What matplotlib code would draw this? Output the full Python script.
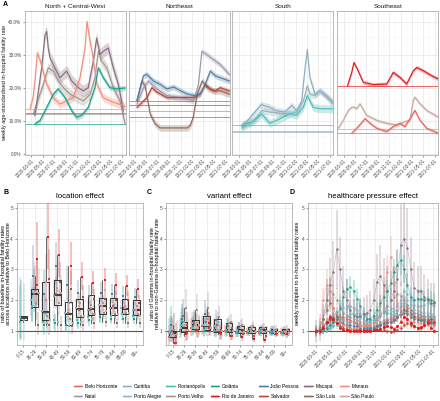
import matplotlib
matplotlib.use('Agg')
import matplotlib.pyplot as plt
import matplotlib.dates as mdates
import numpy as np
from matplotlib.patches import Patch
from matplotlib.lines import Line2D

plt.rcParams['font.family'] = ['Liberation Sans', 'DejaVu Sans']

# ---------------- data ----------------
cities = ['Belo Horizonte', 'Curitiba', 'Florianópolis', 'Goiânia', 'João Pessoa', 'Macapá', 'Manaus',
          'Natal', 'Porto Alegre', 'Porto Velho', 'Rio de Janeiro', 'Salvador', 'São Luís', 'São Paulo']
city_colors = ['#E8655A', '#8FAEC2', '#4DBDB8', '#1B9E8E', '#4E7FA3', '#8A6E80', '#F08F7B',
               '#9C98B0', '#93B3B9', '#A3958C', '#E31A1C', '#B5473C', '#8D6C58', '#C9A79C']

regions = ['North + Central-West', 'Northeast', 'South', 'Southeast']
region_cities = [['Porto Velho', 'Macapá', 'Manaus', 'Goiânia'],
                 ['São Luís', 'Natal', 'Salvador', 'João Pessoa'],
                 ['Porto Alegre', 'Curitiba', 'Florianópolis'],
                 ['São Paulo', 'Belo Horizonte', 'Rio de Janeiro']]

# Panel A: days since 2020-03-01 and weekly IHFR (%)
manaus_days = [-7, 9, 19, 32, 41, 46, 62, 83, 116, 153, 190, 223, 260, 287, 297, 308, 324, 351, 383, 437, 490, 501]
manaus_ihfr = [13.6, 17, 22, 30.5, 29, 28.5, 25, 21, 17, 15, 16, 17, 23, 32, 40, 36, 31, 21, 17, 15.6, 14.6, 14.3]
goiania_days = [19, 46, 82, 117, 144, 180, 216, 242, 269, 304, 340, 358, 385, 420, 456, 501]
goiania_ihfr = [9, 10, 14, 18, 19.6, 17, 13, 11, 11.6, 14, 20, 26, 23, 20, 19.6, 19.9]
macapa_days = [19, 55, 73, 82, 90, 100, 126, 153, 189, 216, 251, 278, 304, 331, 349, 367, 385, 411, 438, 465, 492]
macapa_ihfr = [11.6, 26, 36, 37, 32, 29, 26, 23, 25, 22, 20, 19, 20, 28, 35, 30, 31, 32, 26, 21, 13]
portovelho_days = [10, 64, 90, 117, 144, 171, 207, 242, 278, 314, 340, 358, 376, 403, 438, 474, 501]
portovelho_ihfr = [12, 21, 26, 25, 22, 20, 18, 17, 16, 18, 23, 31, 28, 26, 20, 16, 9]
joaopessoa_days = [11, 46, 64, 100, 135, 171, 207, 242, 278, 314, 349, 376, 403, 430, 456, 505]
joaopessoa_ihfr = [16.1, 23.6, 24, 22, 21, 19.6, 20.2, 19.1, 18.1, 17.6, 18.1, 21, 25, 23.6, 23, 22]
natal_days = [11, 46, 73, 118, 171, 242, 314, 340, 358, 385, 420, 456, 505]
natal_ihfr = [15, 20, 22, 19.6, 17.6, 17, 16, 21, 31, 30, 28.5, 27, 24]
salvador_days = [11, 64, 91, 118, 171, 260, 314, 349, 376, 403, 430, 456, 505]
salvador_ihfr = [14, 17, 20, 18.6, 17, 17, 17, 18, 21, 19.6, 19, 20, 19]
saoluis_days = [11, 37, 55, 82, 109, 135, 280, 296, 312, 333, 360, 387, 419, 456, 505]
saoluis_ihfr = [16, 22, 20.5, 12, 9, 7.8, 7.8, 8.5, 11, 18, 22, 20, 19, 19, 18]
curitiba_days = [16, 43, 78, 123, 132, 167, 203, 248, 284, 310, 337, 355, 367, 381, 408, 435, 471, 506]
curitiba_ihfr = [8.7, 9.7, 12, 15, 14.6, 14, 13, 12.6, 14.6, 13, 16, 26, 31.5, 23, 18, 19, 17, 15]
portoalegre_days = [16, 60, 96, 123, 132, 167, 257, 310, 346, 367, 381, 408, 435, 471, 506]
portoalegre_ihfr = [7.7, 9, 11, 13, 13, 12.6, 12, 12.6, 16, 20.6, 18, 17.6, 19, 17.6, 15.6]
floripa_days = [16, 43, 78, 123, 167, 203, 239, 274, 310, 346, 367, 381, 399, 435, 506]
floripa_ihfr = [8.2, 9.2, 9.7, 12, 9.2, 10.1, 11.1, 12.1, 11.6, 14.1, 17.6, 16, 14, 13.6, 13.6]
rio_days = [21, 43, 55, 70, 105, 158, 230, 265, 301, 337, 372, 391, 426, 471, 506]
rio_ihfr = [20.6, 24.6, 27.6, 26, 21.6, 20.9, 21.1, 24.6, 23.1, 21.1, 25.1, 26.1, 25.1, 23.6, 22.6]
saopaulo_days = [-29, -2, 25, 43, 55, 70, 87, 123, 177, 230, 284, 328, 355, 372, 381, 408, 444, 506]
saopaulo_ihfr = [7.7, 10.1, 13.1, 14.1, 14.1, 13.6, 15.1, 11.6, 10.1, 9.2, 8.7, 9.7, 10.1, 16.1, 17.1, 15.1, 13.1, 11.1]
belo_days = [43, 78, 114, 141, 177, 230, 265, 301, 328, 381, 408, 444, 506]
belo_ihfr = [6.2, 8.2, 10.6, 9.2, 7.7, 6.7, 8.2, 9.2, 8.2, 13.1, 10.1, 7.7, 6.2]

baseline_ihfr = [6.2, 6.7, 8.7, 9.0, 16.0, 12.3, 13.6, 13.0, 6.9, 12.0, 20.5, 14.7, 11.2, 7.4]
ribbon_halfwidth = [0.5, 1.0, 1.2, 0.8, 0.9, 1.8, 1.2, 0.9, 1.0, 1.5, 0.6, 0.7, 1.0, 0.5]

# Panel B / C: age groups
age_groups = ['0-15', '16-29', '30-39', '40-49', '50-59', '60-69', '70-74', '75-79', '80-84', '85-89', '90+']
nan = float('nan')
b_curitiba = [1.45, 2.0, 1.65, 2.15, 1.6, 1.75, 1.7, 1.85, 1.75, 1.75, 1.7]
b_floripa = [1.3, 1.8, 1.3, 1.35, 1.2, 1.35, 1.45, 1.5, 1.5, 1.55, 1.5]
b_goiania = [1.4, 1.75, 1.2, 1.25, 1.2, 1.25, 1.35, 1.45, 1.4, 1.4, 1.4]
b_joaopessoa = [nan, 2.8, 2.2, 3.1, 2.5, 2.25, 2.15, 2.25, 2.2, 2.15, 2.1]
b_macapa = [nan, 2.2, 1.6, 2.2, 1.6, 1.7, 1.7, 1.8, 1.8, 1.75, 1.7]
b_manaus = [nan, 2.4, 2.6, 2.3, 1.7, 1.8, 1.75, 1.8, 1.75, 1.75, 1.7]
b_natal = [nan, 2.3, 2.0, 2.4, 1.9, 1.9, 1.85, 1.9, 1.85, 1.8, 1.8]
b_portoalegre = [1.35, 1.85, 1.25, 1.3, 1.15, 1.3, 1.4, 1.5, 1.45, 1.5, 1.45]
b_portovelho = [nan, 1.9, 1.5, 1.9, 1.4, 1.5, 1.55, 1.6, 1.55, 1.6, 1.55]
b_rio = [nan, 3.35, 4.05, 3.45, 3.1, 2.75, 2.55, 2.65, 2.5, 2.45, 2.35]
b_salvador = [nan, 2.5, 2.7, 2.6, 2.35, 2.1, 2.05, 2.05, 2.0, 2.0, 1.9]
b_saoluis = [nan, 1.2, 1.2, 1.2, 1.15, 1.2, 1.25, 1.3, 1.25, 1.25, 1.25]
b_saopaulo = [nan, 2.25, 1.35, 2.25, 1.25, 1.5, 1.55, 1.65, 1.55, 1.6, 1.5]
b_err = [0.9, 0.35, 0.35, 0.25, 0.25, 0.18, 0.16, 0.15, 0.15, 0.15, 0.14]
b_med = [1.44, 2.21, 1.62, 2.16, 1.57, 1.73, 1.73, 1.81, 1.76, 1.73, 1.70]
b_q1 = [1.36, 1.78, 1.35, 1.84, 1.19, 1.46, 1.52, 1.57, 1.52, 1.57, 1.52]
b_q3 = [1.48, 2.38, 2.59, 2.65, 1.95, 2.05, 2.16, 2.08, 2.08, 2.05, 2.00]
b_wlo = [1.3, 1.2, 1.2, 1.2, 1.15, 1.2, 1.25, 1.3, 1.25, 1.25, 1.25]
b_whi = [1.5, 2.8, 4.05, 3.45, 3.1, 2.75, 2.55, 2.65, 2.5, 2.45, 2.35]

c_belo = [0.8, 1.05, 1.1, 1.15, 1.05, 1.0, 0.95, 0.95, 0.95, 0.95, 0.95]
c_curitiba = [0.95, 1.1, 1.25, 1.2, 1.15, 1.05, 1.05, 1.0, 1.02, 1.0, 0.98]
c_floripa = [1.0, 1.2, 1.1, 1.05, 1.0, 0.98, 0.97, 0.95, 0.97, 0.95, 0.95]
c_goiania = [1.2, 1.3, 1.15, 1.1, 1.0, 1.0, 0.95, 0.95, 0.95, 0.95, 0.93]
c_joaopessoa = [0.95, 1.4, 1.25, 1.55, 1.35, 1.2, 1.1, 1.05, 1.05, 1.0, 0.98]
c_macapa = [1.0, 1.5, 1.3, 1.3, 1.2, 1.15, 1.1, 1.05, 1.05, 1.0, 1.0]
c_manaus = [0.95, 1.15, 1.2, 1.1, 1.05, 1.05, 1.0, 1.0, 1.0, 0.98, 0.97]
c_natal = [0.9, 1.3, 1.2, 1.4, 1.3, 1.25, 1.15, 1.1, 1.1, 1.05, 1.0]
c_portoalegre = [1.05, 1.2, 1.2, 1.1, 1.05, 1.0, 0.98, 0.97, 0.97, 0.95, 0.94]
c_portovelho = [1.05, 1.75, 1.7, 1.75, 1.45, 1.3, 1.2, 1.15, 1.1, 1.05, 1.05]
c_rio = [0.62, 0.9, 1.05, 1.25, 0.95, 0.85, 0.8, 0.75, 0.7, 0.92, 0.9]
c_salvador = [0.6, 0.95, 1.0, 1.1, 0.9, 0.85, 0.9, 0.85, 0.85, 0.95, 0.95]
c_saoluis = [0.85, 1.2, 1.15, 1.15, 1.05, 1.1, 1.05, 1.0, 1.0, 0.97, 0.97]
c_saopaulo = [0.9, 1.05, 1.2, 1.1, 1.0, 1.0, 0.98, 0.97, 1.0, 0.97, 0.95]
c_err = [0.5, 0.35, 0.3, 0.3, 0.25, 0.2, 0.18, 0.15, 0.15, 0.15, 0.15]
c_med = [0.93, 1.10, 1.20, 1.12, 1.05, 1.03, 1.02, 1.00, 1.02, 0.99, 0.98]
c_q1 = [0.80, 0.98, 1.08, 1.05, 0.98, 0.97, 0.93, 0.93, 0.95, 0.95, 0.94]
c_q3 = [1.00, 1.30, 1.35, 1.50, 1.40, 1.25, 1.18, 1.12, 1.12, 1.08, 1.06]
c_wlo = [0.6, 0.85, 1.0, 1.0, 0.9, 0.85, 0.8, 0.75, 0.7, 0.92, 0.9]
c_whi = [1.2, 1.75, 1.7, 1.75, 1.45, 1.3, 1.2, 1.15, 1.12, 1.05, 1.05]

# Panel D: fortnightly healthcare pressure multiplier from 2020-03-02
d_start = '2020-03-02'
d_belo = [1.0,1.0,1.05,1.1,1.2,1.3,1.4,1.45,1.45,1.4,1.35,1.3,1.25,1.2,1.15,1.15,1.1,1.1,1.15,1.2,1.3,1.35,1.4,1.4,1.45,1.55,1.7,1.75,1.65,1.5,1.45,1.4,1.4,1.35,1.3,1.3]
d_curitiba = [1.0,1.0,1.05,1.15,1.3,1.45,1.6,1.7,1.75,1.8,1.8,1.75,1.7,1.6,1.5,1.4,1.35,1.35,1.45,1.6,1.75,1.8,1.75,1.7,1.8,2.0,2.3,2.2,2.0,1.85,1.8,1.8,1.85,1.9,1.85,1.8]
d_floripa = [1.0,1.0,1.0,1.05,1.1,1.15,1.2,1.3,1.4,1.5,1.55,1.55,1.5,1.45,1.35,1.3,1.3,1.35,1.45,1.55,1.6,1.6,1.55,1.5,1.5,1.6,1.8,1.75,1.6,1.5,1.45,1.4,1.45,1.5,1.5,1.45]
d_goiania = [1.0,1.0,1.05,1.1,1.2,1.3,1.45,1.75,2.1,2.35,2.42,2.3,2.05,1.8,1.55,1.4,1.4,1.5,1.7,1.9,2.1,2.3,2.55,2.9,3.15,3.3,3.0,2.5,2.1,2.0,2.05,2.05,2.0,2.05,2.0,1.95]
d_joaopessoa = [1.0,1.0,1.1,1.25,1.35,1.45,1.4,1.3,1.25,1.2,1.2,1.15,1.15,1.1,1.1,1.1,1.1,1.1,1.15,1.2,1.2,1.25,1.3,1.35,1.45,1.55,1.6,1.55,1.45,1.4,1.35,1.35,1.3,1.3,1.25,1.2]
d_macapa = [1.0,1.05,1.4,2.0,2.5,2.9,3.65,3.0,2.3,2.0,1.7,1.5,1.45,1.5,1.55,1.6,1.7,2.0,2.6,2.8,2.5,2.3,2.0,2.3,2.7,3.8,4.0,3.7,3.0,2.4,2.3,2.3,2.1,2.0,1.9,1.9]
d_manaus = [1.0,1.3,2.0,2.5,2.3,1.75,1.45,1.3,1.2,1.15,1.1,1.1,1.1,1.15,1.15,1.2,1.2,1.3,1.45,1.8,2.3,2.9,3.4,2.6,1.9,1.6,1.45,1.35,1.3,1.3,1.25,1.25,1.2,1.2,1.2,1.2]
d_natal = [1.0,1.0,1.15,1.3,1.45,1.55,1.5,1.4,1.35,1.3,1.3,1.25,1.2,1.2,1.2,1.2,1.15,1.15,1.2,1.3,1.35,1.4,1.45,1.5,1.65,1.8,1.9,1.85,1.7,1.6,1.55,1.5,1.5,1.45,1.45,1.4]
d_portoalegre = [1.0,1.0,1.0,1.05,1.1,1.2,1.3,1.45,1.6,1.75,1.8,1.75,1.6,1.45,1.35,1.3,1.25,1.3,1.4,1.55,1.65,1.7,1.65,1.6,1.7,1.9,2.1,2.0,1.85,1.7,1.65,1.6,1.6,1.6,1.55,1.5]
d_portovelho = [1.0,1.1,1.4,2.0,2.3,2.2,2.0,1.8,1.6,1.5,1.45,1.4,1.35,1.3,1.25,1.2,1.2,1.25,1.35,1.5,1.65,1.8,2.0,2.1,2.2,2.15,2.0,1.85,1.7,1.6,1.55,1.5,1.45,1.4,1.4,1.35]
d_rio = [1.0,1.0,1.1,1.3,1.45,1.4,1.25,1.1,1.05,1.02,1.0,1.0,1.0,1.0,1.0,1.0,1.0,1.02,1.05,1.08,1.12,1.15,1.12,1.08,1.15,1.3,1.45,1.4,1.25,1.15,1.1,1.12,1.2,1.25,1.1,1.0]
d_salvador = [1.0,1.05,1.15,1.3,1.4,1.35,1.25,1.15,1.1,1.08,1.05,1.05,1.05,1.03,1.03,1.03,1.03,1.04,1.05,1.05,1.05,1.0,0.98,1.0,1.05,1.1,1.2,1.25,1.2,1.15,1.1,1.1,1.2,1.35,1.4,1.3]
d_saoluis = [1.0,1.1,1.4,1.7,1.9,1.75,1.5,1.3,1.2,1.15,1.1,1.05,1.05,1.05,1.05,1.05,1.05,1.1,1.15,1.2,1.25,1.3,1.3,1.35,1.45,1.6,1.7,1.65,1.55,1.45,1.4,1.35,1.35,1.3,1.3,1.25]
d_saopaulo = [1.0,1.05,1.2,1.35,1.45,1.5,1.45,1.4,1.35,1.3,1.3,1.25,1.2,1.15,1.15,1.1,1.1,1.15,1.2,1.25,1.3,1.35,1.35,1.35,1.45,1.55,1.65,1.6,1.5,1.45,1.4,1.4,1.4,1.35,1.35,1.3]
d_err = [0.08, 0.12, 0.1, 0.15, 0.1, 0.35, 0.2, 0.1, 0.1, 0.2, 0.04, 0.08, 0.1, 0.08]

# ---------------- assemble ----------------
a_days = dict(zip(cities, [belo_days, curitiba_days, floripa_days, goiania_days, joaopessoa_days, macapa_days,
                           manaus_days, natal_days, portoalegre_days, portovelho_days, rio_days, salvador_days,
                           saoluis_days, saopaulo_days]))
a_vals = dict(zip(cities, [belo_ihfr, curitiba_ihfr, floripa_ihfr, goiania_ihfr, joaopessoa_ihfr, macapa_ihfr,
                           manaus_ihfr, natal_ihfr, portoalegre_ihfr, portovelho_ihfr, rio_ihfr, salvador_ihfr,
                           saoluis_ihfr, saopaulo_ihfr]))
b_vals = dict(zip(cities[1:], [b_curitiba, b_floripa, b_goiania, b_joaopessoa, b_macapa, b_manaus, b_natal,
                               b_portoalegre, b_portovelho, b_rio, b_salvador, b_saoluis, b_saopaulo]))
c_vals = dict(zip(cities, [c_belo, c_curitiba, c_floripa, c_goiania, c_joaopessoa, c_macapa, c_manaus, c_natal,
                           c_portoalegre, c_portovelho, c_rio, c_salvador, c_saoluis, c_saopaulo]))
d_vals = dict(zip(cities, [d_belo, d_curitiba, d_floripa, d_goiania, d_joaopessoa, d_macapa, d_manaus, d_natal,
                           d_portoalegre, d_portovelho, d_rio, d_salvador, d_saoluis, d_saopaulo]))
col = dict(zip(cities, city_colors))
cidx = {c: i for i, c in enumerate(cities)}

# ---------------- figure ----------------
W, H = 440, 401
fig = plt.figure(figsize=(W / 100, H / 100), dpi=100)

def ax_px(l, t, r, b):
    return fig.add_axes([l / W, 1 - b / H, (r - l) / W, (b - t) / H])

TICK_FS = 3.4
GRID_MAJ = '#E3E3E3'
GRID_MIN = '#F1F1F1'
SPINE = '#B0B0B0'

def style(ax):
    ax.set_facecolor('white')
    for s in ax.spines.values():
        s.set_color(SPINE)
        s.set_linewidth(0.6)
    ax.tick_params(which='major', length=1.5, width=0.4, color='#444444', labelsize=TICK_FS,
                   labelcolor='#4D4D4D', pad=1)
    ax.tick_params(which='minor', length=0)
    ax.grid(which='major', color=GRID_MAJ, lw=0.45)
    ax.grid(which='minor', color=GRID_MIN, lw=0.3)
    ax.set_axisbelow(True)

xlim_dates = (mdates.date2num(np.datetime64('2020-01-27')), mdates.date2num(np.datetime64('2021-07-20')))
base = np.datetime64('2020-03-01')

def date_axis(ax):
    ax.xaxis.set_major_locator(mdates.MonthLocator(bymonth=[1, 3, 5, 7, 9, 11]))
    ax.xaxis.set_minor_locator(mdates.MonthLocator())
    ax.xaxis.set_major_formatter(mdates.DateFormatter('%Y-%m-%d'))
    ax.set_xlim(*xlim_dates)
    for lab in ax.get_xticklabels():
        lab.set_rotation(45)
        lab.set_ha('right')
        lab.set_rotation_mode('anchor')

# ---- Panel A ----
a_lefts = [25, 128.5, 232.3, 337.3]
a_w = 101
for i, reg in enumerate(regions):
    ax = ax_px(a_lefts[i], 11, a_lefts[i] + a_w, 155)
    style(ax)
    for c in region_cities[i]:
        j = cidx[c]
        x = base + np.array(a_days[c]).astype('timedelta64[D]')
        xn = mdates.date2num(x)
        y = np.array(a_vals[c]) / 100
        hw = ribbon_halfwidth[j] / 100
        ax.fill_between(xn, y - hw, y + hw, color=col[c], alpha=0.3, lw=0)
        ax.axhline(baseline_ihfr[j] / 100, color=col[c], lw=0.6, alpha=0.8)
        ax.plot(xn, y, color=col[c], lw=0.85)
    ax.set_ylim(-0.004, 0.432)
    ax.set_yticks([0, 0.1, 0.2, 0.3, 0.4])
    ax.set_yticks([0.05, 0.15, 0.25, 0.35], minor=True)
    if i == 0:
        ax.set_yticklabels(['0.0%', '10.0%', '20.0%', '30.0%', '40.0%'])
    else:
        ax.tick_params(axis='y', labelleft=False, length=0)
    date_axis(ax)
    fig.text((a_lefts[i] + a_w / 2) / W, 1 - 6 / H, reg, ha='center', va='center', fontsize=4.6, color='#1A1A1A')

fig.text(5 / W, 1 - 83 / H, 'weekly age-standardised in-hospital fatality rate', rotation=90,
         ha='center', va='center', fontsize=4.0, color='#1A1A1A')
fig.text(3 / W, 1 - 4 / H, 'A', fontsize=5, fontweight='bold', ha='left', va='center')

# ---- Panels B / C ----
offsets = np.linspace(-0.36, 0.36, len(cities))
xpos = np.arange(len(age_groups))

def age_panel(ax, vals, err, med, q1, q3, wlo, whi):
    style(ax)
    ax.axhline(1, color='#555555', lw=0.8, zorder=2)
    stats = [dict(med=med[k], q1=q1[k], q3=q3[k], whislo=wlo[k], whishi=whi[k], fliers=[])
             for k in range(len(age_groups))]
    for c, v in vals.items():
        j = cidx[c]
        v = np.array(v)
        xs = xpos + offsets[j]
        ok = ~np.isnan(v)
        e = np.array(err)
        ax.vlines(xs[ok], (v / (1 + e))[ok], (v * (1 + e))[ok], color=col[c], alpha=0.35, lw=1.1, zorder=3)
        ax.scatter(xs[ok], v[ok], s=2.2, color=col[c], zorder=5, lw=0, marker='s')
    ax.bxp(stats, positions=xpos, widths=0.6, showfliers=False, manage_ticks=False,
           boxprops=dict(color='#333333', lw=0.7), whiskerprops=dict(color='#333333', lw=0.5),
           capprops=dict(lw=0), medianprops=dict(color='#222222', lw=1.2), zorder=4)
    ax.set_xlim(-0.6, len(age_groups) - 0.4)
    ax.set_xticks(xpos)
    ax.set_xticklabels(age_groups, rotation=45, ha='right', rotation_mode='anchor')
    ax.set_ylim(0.55, 5.15)
    ax.set_yticks([1, 2, 3, 4, 5])
    ax.set_yticks([1.5, 2.5, 3.5, 4.5], minor=True)

axB = ax_px(16.5, 203, 143, 345)
age_panel(axB, b_vals, b_err, b_med, b_q1, b_q3, b_wlo, b_whi)
axC = ax_px(166, 203, 292, 345)
age_panel(axC, c_vals, c_err, c_med, c_q1, c_q3, c_wlo, c_whi)

# ---- Panel D ----
axD = ax_px(308, 203, 438, 345)
style(axD)
axD.axhline(1, color='#555555', lw=0.8, zorder=2)
d_dates = mdates.date2num(np.arange(np.datetime64(d_start), np.datetime64(d_start) + 14 * len(d_rio), 14))
d_order = ['Curitiba', 'Florianópolis', 'Porto Alegre', 'São Paulo', 'Belo Horizonte', 'Natal', 'São Luís',
           'João Pessoa', 'Porto Velho', 'Salvador', 'Manaus', 'Goiânia', 'Macapá', 'Rio de Janeiro']
for z, c in enumerate(d_order):
    j = cidx[c]
    v = np.array(d_vals[c])
    e = d_err[j]
    axD.vlines(d_dates, v * (1 - e), v * (1 + e), color=col[c], alpha=0.25, lw=1.4, zorder=3 + z * 0.01)
    axD.plot(d_dates, v, color=col[c], lw=0.5, alpha=0.45, zorder=3.5 + z * 0.01)
    size = 4.5 if c == 'Rio de Janeiro' else 3.0
    axD.scatter(d_dates, v, s=size, color=col[c], lw=0, zorder=4 + z * 0.01)
axD.set_ylim(0.55, 5.15)
axD.set_yticks([1, 2, 3, 4, 5])
axD.set_yticks([1.5, 2.5, 3.5, 4.5], minor=True)
date_axis(axD)

# titles & labels for bottom row
fig.text((16.5 + 143) / 2 / W, 1 - 197 / H, 'location effect', ha='center', va='center', fontsize=5.6)
fig.text((166 + 292) / 2 / W, 1 - 197 / H, 'variant effect', ha='center', va='center', fontsize=5.6)
fig.text((308 + 438) / 2 / W, 1 - 197 / H, 'healthcare pressure effect', ha='center', va='center', fontsize=5.6)
fig.text(3 / W, 1 - 193 / H, 'B', fontsize=5, fontweight='bold', ha='left', va='center')
fig.text(147 / W, 1 - 193 / H, 'C', fontsize=5, fontweight='bold', ha='left', va='center')
fig.text(289 / W, 1 - 193 / H, 'D', fontsize=5, fontweight='bold', ha='left', va='center')
fig.text(6 / W, 1 - 274 / H, 'ratio of baseline in-hospital fatality rates\nacross locations relative to Belo Horizonte',
         rotation=90, ha='center', va='center', fontsize=4.0, linespacing=1.1)
fig.text(155 / W, 1 - 274 / H, 'ratio of Gamma in-hospital fatality rate\nrelative to non-Gamma in-hospital fatality rate',
         rotation=90, ha='center', va='center', fontsize=4.0, linespacing=1.1)
fig.text(298 / W, 1 - 274 / H, 'weekly multiplier to in-hospital fatality rates',
         rotation=90, ha='center', va='center', fontsize=4.0)

# ---- legend ----
handles, labels = [], []
for k in range(7):
    for r in range(2):
        c = cities[r * 7 + k]
        handles.append((Patch(facecolor=col[c], alpha=0.3, edgecolor='none'), Line2D([], [], color=col[c], lw=0.8)))
        labels.append(c)
fig.legend(handles, labels, ncol=7, loc='center', bbox_to_anchor=(224 / W, 1 - 391.5 / H), fontsize=3.5,
           frameon=False, handlelength=1.7, handleheight=0.6, columnspacing=1.1, handletextpad=0.6,
           labelspacing=1.0)

fig.savefig('out.png', dpi=100, facecolor='white')
